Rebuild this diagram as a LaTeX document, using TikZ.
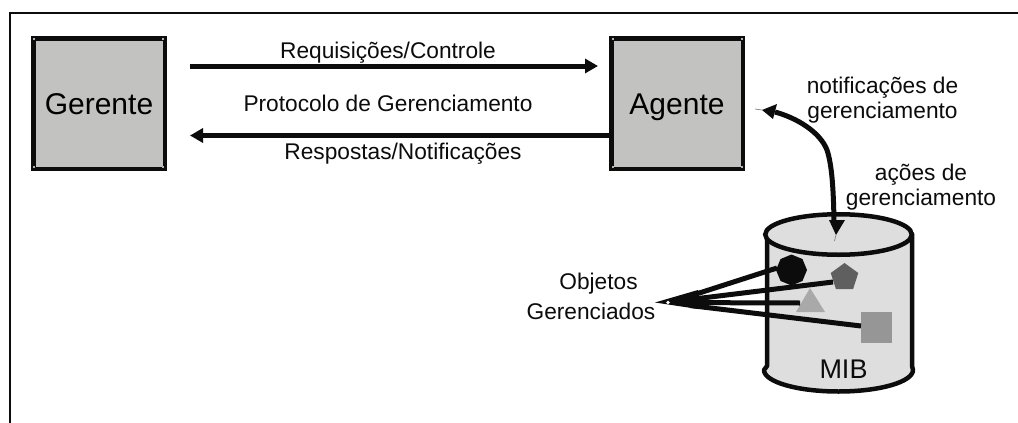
\documentclass[tikz,border=0pt]{standalone}
\usepackage{fontspec}
\setmainfont{Liberation Sans}
\usetikzlibrary{arrows.meta,shapes.geometric}
\definecolor{boxgray}{HTML}{C2C2C0}
\definecolor{dbgray}{HTML}{DEDEDE}
\definecolor{pentgray}{HTML}{5F5F5F}
\definecolor{trigray}{HTML}{A9A9A9}
\definecolor{squaregray}{HTML}{969696}
\definecolor{inkblack}{HTML}{0C0C0C}
\tikzset{
  x=1pt,y=-1pt,
  bigbox/.style={draw=inkblack,line width=4.5pt,fill=boxgray,minimum width=131.5pt,minimum height=130.5pt,inner sep=0pt,text height=21pt,text depth=0pt,font=\fontsize{30}{30}\selectfont},
  lab/.style={font=\fontsize{22.7}{25}\selectfont,align=center,inner sep=0pt,text=inkblack},
  baselab/.style={lab,anchor=base},
  flow/.style={line width=5pt,draw=inkblack,-{Triangle[length=13pt,width=14pt]}},
  fan/.style={line width=5pt,draw=inkblack},
  handle/.style={fill=gray!60,minimum size=2pt,inner sep=0pt},
  needle/.style={draw=gray,line width=.7pt},
}
\begin{document}
\begin{tikzpicture}
\useasboundingbox (0,0) rectangle (1018,423);
\fill[white] (0,0) rectangle (1018,423);
% frame
\draw[line width=1.7pt,inkblack] (10,423) -- (10,13.3) -- (1018,13.3);
% boxes
\node[bigbox] (gerente) at (99,103.5) {Gerente};
\node[bigbox] (agente) at (677,103.5) {Agente};
\foreach \hx/\hy in {34.3/39.3,163/39.3,34.3/167,163/167,613.3/39.3,741.7/39.3,613.3/167,741.7/167}
  \node[handle] at (\hx,\hy) {};
% flows
\coordinate (reqs) at (190,66);
\coordinate (reqe) at (598,66);
\coordinate (rese) at (190,135.5);
\draw[flow] (reqs) -- (reqe);
\draw[flow] (agente.west |- rese) -- (rese);
\node[baselab] (l1) at (388,58) {Requisições/Controle};
\node[baselab] (l2) at (388,111) {Protocolo de Gerenciamento};
\node[baselab] (l3) at (403,159) {Respostas/Notificações};
\node[lab] (l4) at (882.5,100) {notificações de\\gerenciamento};
\node[lab] (l5) at (921,187.5) {ações de\\gerenciamento};
% cylinder
\filldraw[dbgray,draw=inkblack,line width=4.5pt,line join=round] (767,234) -- (767,366) -- (764,370) arc[start angle=180,end angle=360,x radius=74.5,y radius=-21.5] -- (912,366) -- (912,234) -- cycle;
\node[draw=inkblack,fill=dbgray,line width=4.5pt,ellipse,minimum width=146.5pt,minimum height=40.5pt,inner sep=0pt] (topdb) at (838.5,234.5) {};
\node[baselab,font=\fontsize{27}{27}\selectfont] (mib) at (843.5,378) {MIB};
% objects
\node[regular polygon,regular polygon sides=8,shape border rotate=22.5,fill=inkblack,minimum size=31pt,inner sep=0pt] (octa) at (791.5,270) {};
\node[regular polygon,regular polygon sides=5,fill=pentgray,minimum size=29pt,inner sep=0pt] (penta) at (844.5,277.5) {};
\coordinate (tA) at (810,288);
\coordinate (tB) at (825,312);
\coordinate (tC) at (796,312);
\fill[trigray] (tA) -- (tB) -- (tC) -- cycle;
\node[fill=squaregray,minimum size=31pt,inner sep=0pt] (sq) at (876.5,327.5) {};
% fan
\coordinate (apex) at (668,302.5);
\coordinate (tip) at (655,302.5);
\coordinate (tri) at (800,303);
\coordinate (sqw) at (861,326);
\coordinate (octw) at (777,268);
\coordinate (penw) at (833,282);
\draw[fan,line cap=butt] (690,296) -- (octw);
\draw[fan,line cap=butt] (690,299.5) -- (penw);
\draw[fan,line cap=butt] (690,302.6) -- (tri);
\draw[fan,line cap=butt] (690,305.5) -- (sqw);
\fill[inkblack] (tip) -- (698,290) -- (698,309) -- cycle;
\fill[white] (apex) circle (1.8pt);
\node[baselab] (obj) at (598.5,289) {Objetos};
\node[baselab] (ger) at (591,319) {Gerenciados};
% curved arrow
\coordinate (cbot) at (836,235);
\coordinate (ctop) at (762,110);
\draw[needle] (cbot) -- (834.5,241);
\draw[needle] (ctop) -- (755,109);
\draw[line width=5pt,inkblack] (834,222) .. controls (833.5,190) and (832,165) .. (827,150) .. controls (820,132) and (797,118) .. (775,112);
\fill[inkblack] (cbot) -- (829,220) -- (845,220) -- cycle;
\fill[inkblack] (ctop) -- (777,104) -- (773,119) -- cycle;
\end{tikzpicture}
\end{document}
